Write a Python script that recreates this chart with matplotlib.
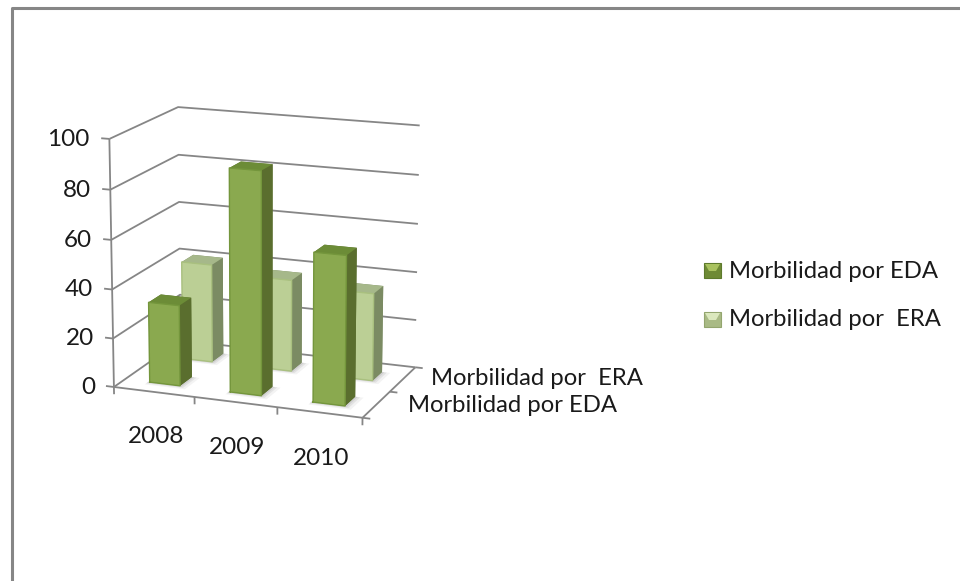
#!/usr/bin/env python3

import matplotlib

matplotlib.use("Agg")
import matplotlib.pyplot as plt
from matplotlib.lines import Line2D
from matplotlib.patches import Polygon
from mpl_toolkits.mplot3d import proj3d
from mpl_toolkits.mplot3d.art3d import Poly3DCollection

WIDTH, HEIGHT = 960, 581

years = ["2008", "2009", "2010"]
series_names = ["Morbilidad por EDA", "Morbilidad por  ERA"]
eda_values = [33, 90, 60]
era_values = [41, 38, 36]
z_ticks = [0, 20, 40, 60, 80, 100]

EDA_COLORS = {"front": "#8aa94f", "side": "#5a6e2e", "top": "#6c8c37", "edge": "#74963c"}
ERA_COLORS = {"front": "#bbcf95", "side": "#7b8b63", "top": "#a6b88a", "edge": "#a9c07f"}
GRID = "#868686"
TEXT = "#1a1a1a"
BAR_W = 0.38
BAR_D = 0.36


def px(x, y):
    return x / WIDTH, 1 - y / HEIGHT


def draw_bar(ax, cx, cy, value, colors, order):
    x0, y0 = cx - BAR_W / 2, cy - BAR_D / 2
    # soft shadow on the floor, slightly shifted to the right
    for grow, alpha in [(0.10, 0.07), (0.06, 0.10), (0.03, 0.12)]:
        xs = [x0 - 0.02, x0 + BAR_W + grow, x0 + BAR_W + grow, x0 - 0.02]
        ys = [y0 - grow, y0 - grow, y0 + BAR_D, y0 + BAR_D]
        floor = Poly3DCollection(
            [list(zip(xs, ys, [0] * 4))], facecolor="#555555", alpha=alpha, edgecolor="none"
        )
        floor.set_zorder(order)
        ax.add_collection3d(floor)
    faces = [
        colors["side"], colors["top"], colors["front"],
        colors["side"], colors["side"], colors["side"],
    ]
    bar = ax.bar3d(
        x0, y0, 0, BAR_W, BAR_D, value, color=faces, shade=False,
        edgecolor=None, linewidth=0,
    )
    bar.set_zorder(order + 0.1)
    # lighter rim on the front face
    ax.plot(
        [x0, x0 + BAR_W, x0 + BAR_W, x0, x0], [y0] * 5, [0, 0, value, value, 0],
        color=colors["edge"], linewidth=1.0, zorder=order + 0.2,
    )


def draw_frame(ax):
    n, d = len(years), len(series_names)
    kw = dict(color=GRID, linewidth=1.3, zorder=1, solid_capstyle="butt")
    for v in z_ticks:
        ax.plot([0, 0, n], [0, d, d], [v, v, v], **kw)
        ax.plot([-0.1, 0], [0, 0], [v, v], **kw)
    ax.plot([0, 0], [0, 0], [0, z_ticks[-1]], **kw)
    ax.plot([0, n], [0, 0], [0, 0], **kw)
    ax.plot([n, n], [0, d], [0, 0], **kw)
    for i in range(n + 1):
        ax.plot([i, i], [0, 0], [0, -3], **kw)
    for j in range(d + 1):
        ax.plot([n, n + 0.09], [j, j], [0, 0], **kw)


def label_at(ax, x, y, z, text, **kw):
    # project by hand so the label is a plain 2D text on the axes
    x2, y2, _ = proj3d.proj_transform(x, y, z, ax.get_proj())
    ax.text2D(x2, y2, text, transform=ax.transData, va="center", color=TEXT, **kw)


def draw_labels(ax):
    for v in z_ticks:
        label_at(ax, -0.24, 0, v - 1, str(v), ha="right", fontsize=17.5)
    for i, year in enumerate(years):
        label_at(ax, i + 0.52, 0, -18.5, year, ha="center", fontsize=17.5)
    for j, name in enumerate(series_names):
        label_at(ax, 3.37 - 0.03 * j, j + 0.5, 1 + 0.5 * j, name, ha="left", fontsize=17.2)


def draw_legend(fig):
    colors = [("#6e8a35", "#5d7a2c", "#a9c25f"), ("#a9ba85", "#93a56e", "#dbe8bd")]
    for k, name in enumerate(series_names):
        top = 263 + k * 49
        outer = [px(704, top), px(721, top), px(721, top + 15), px(704, top + 15)]
        fig.add_artist(Polygon(outer, closed=True, transform=fig.transFigure,
                               facecolor=colors[k][0], edgecolor=colors[k][1], linewidth=0.8))
        inner = [px(705, top + 1), px(720, top + 1), px(716, top + 8), px(709, top + 8)]
        fig.add_artist(Polygon(inner, closed=True, transform=fig.transFigure,
                               facecolor=colors[k][2], edgecolor="none"))
        fig.text(*px(729, top + 8), name, ha="left", va="center", fontsize=17.2, color=TEXT)


def main():
    plt.rcParams["font.family"] = ["Lato", "DejaVu Sans"]
    fig = plt.figure(figsize=(WIDTH / 100, HEIGHT / 100), dpi=100, facecolor="white")

    # frame of the embedded chart: left and top only
    fig.add_artist(Line2D(*zip(px(11.5, 581), px(11.5, 8), px(960, 8)),
                          transform=fig.transFigure, color="#868686", linewidth=2.2))

    size = 420
    ax = fig.add_axes([(261 - size / 2) / WIDTH, 1 - (262 + size / 2) / HEIGHT,
                       size / WIDTH, size / HEIGHT], projection="3d", computed_zorder=False)
    ax.set_xlim(0, 3)
    ax.set_ylim(0, 2)
    ax.set_zlim(0, 100)
    ax.set_axis_off()
    ax.patch.set_alpha(0)
    ax.view_init(elev=15, azim=-69)
    ax.set_box_aspect((266, 172, 257), zoom=0.93)

    draw_frame(ax)
    order = 2
    for j, (values, colors) in reversed(list(enumerate([(eda_values, EDA_COLORS), (era_values, ERA_COLORS)]))):
        for i, v in enumerate(values):
            draw_bar(ax, i + 0.5, j + 0.5, v, colors, order)
            order += 1
    draw_labels(ax)
    draw_legend(fig)

    fig.savefig("out.png", dpi=100)
    plt.close(fig)


if __name__ == "__main__":
    main()
